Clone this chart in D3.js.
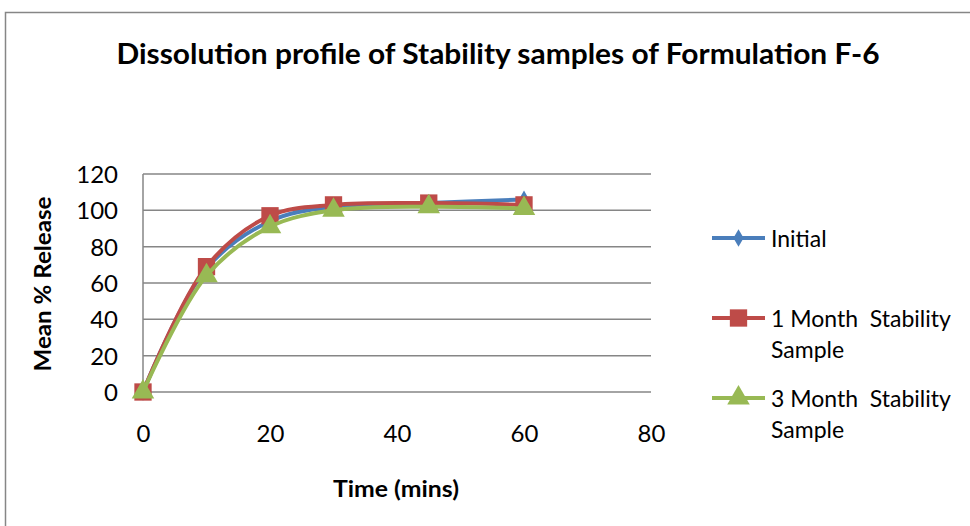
<!DOCTYPE html>
<html lang="en">
  <head>
    <meta charset="UTF-8" />
    <title>Dissolution profile</title>
    <script src="https://cdn.jsdelivr.net/npm/d3@7"></script>
    <style>
      body { margin: 0; background: #fff; }
      text { font-family: Lato, "Open Sans", sans-serif; fill: #000; }
    </style>
  </head>
  <body>
    <svg width="970" height="526"></svg>
  </body>
  <script>
    var times = [0, 10, 20, 30, 45, 60];
    var initial = [0, 68, 94, 102, 104, 106];
    var month1 = [0, 69, 97, 103, 104, 103];
    var month3 = [0, 64, 91, 100, 102, 101];
    var seriesNames = ["Initial", "1 Month  Stability Sample", "3 Month  Stability Sample"];
    var xTicks = [0, 20, 40, 60, 80];
    var yTicks = [0, 20, 40, 60, 80, 100, 120];

    var svg = d3.select("svg");

    // chart frame
    svg.append("rect")
      .attr("x", 5.5).attr("y", 12.5)
      .attr("width", 1000).attr("height", 600)
      .attr("fill", "white").attr("stroke", "#868686").attr("stroke-width", 1.5);

    var xScale = d3.scaleLinear().domain([0, 80]).range([143, 651]);
    var yScale = d3.scaleLinear().domain([0, 120]).range([392, 174]);

    // gridlines
    svg.append("g")
      .selectAll("line")
      .data(yTicks)
      .enter()
      .append("line")
      .attr("x1", xScale(0)).attr("x2", xScale(80))
      .attr("y1", (d) => yScale(d)).attr("y2", (d) => yScale(d))
      .attr("stroke", "#868686").attr("stroke-width", 1.5);

    svg.append("line")
      .attr("x1", xScale(0)).attr("x2", xScale(0))
      .attr("y1", yScale(0)).attr("y2", yScale(120))
      .attr("stroke", "#868686").attr("stroke-width", 1.5);

    var yAxis = d3.axisLeft(yScale).tickValues(yTicks).tickSize(0).tickPadding(25);
    var xAxis = d3.axisBottom(xScale).tickValues(xTicks).tickSize(0).tickPadding(33);

    var gy = svg.append("g").attr("transform", "translate(" + xScale(0) + ",0)").call(yAxis);
    var gx = svg.append("g").attr("transform", "translate(0," + yScale(0) + ")").call(xAxis);
    svg.selectAll(".domain").remove();
    svg.selectAll(".tick text")
      .style("font-family", "Lato, sans-serif")
      .style("font-size", "24px")
      .attr("fill", "#000");
    gy.selectAll(".tick text").attr("dy", "0.35em");

    var series = [
      { name: seriesNames[0], values: initial, color: "#4a7ebb", symbol: d3.symbolDiamond, size: 90 },
      { name: seriesNames[1], values: month1, color: "#be4b48", symbol: d3.symbolSquare, size: 300 },
      { name: seriesNames[2], values: month3, color: "#98b954", symbol: d3.symbolTriangle, size: 220 }
    ];

    var line = d3.line()
      .x((d, i) => xScale(times[i]))
      .y((d) => yScale(d))
      .curve(d3.curveCatmullRom.alpha(0.5));

    series.forEach(function (s) {
      svg.append("path")
        .attr("d", line(s.values))
        .attr("fill", "none")
        .attr("stroke", s.color)
        .attr("stroke-width", 4);
      svg.append("g")
        .selectAll("path")
        .data(s.values)
        .enter()
        .append("path")
        .attr("d", d3.symbol().type(s.symbol).size(s.size))
        .attr("transform", (d, i) => "translate(" + xScale(times[i]) + "," + yScale(d) + ")")
        .attr("fill", s.color);
    });

    // legend
    var legendY = [238, 318, 398];
    series.forEach(function (s, i) {
      var g = svg.append("g").attr("transform", "translate(712," + legendY[i] + ")");
      g.append("line").attr("x1", 0).attr("x2", 53).attr("y1", 0).attr("y2", 0)
        .attr("stroke", s.color).attr("stroke-width", 4);
      g.append("path")
        .attr("d", d3.symbol().type(s.symbol).size(s.size))
        .attr("transform", "translate(26.5,0)")
        .attr("fill", s.color);
      var words = s.name.split(" Sample");
      var t = g.append("text").attr("x", 59).attr("y", 9).style("font-size", "23px");
      t.append("tspan").attr("x", 59).text(words[0]).style("white-space", "pre");
      if (words.length > 1) {
        t.append("tspan").attr("x", 59).attr("dy", 31).text("Sample");
      }
    });

    svg.append("text")
      .attr("x", 498).attr("y", 64)
      .attr("text-anchor", "middle")
      .attr("textLength", 763).attr("lengthAdjust", "spacingAndGlyphs")
      .style("font-size", "28px").style("font-weight", "bold")
      .text("Dissolution profile of Stability samples of Formulation F-6");

    svg.append("text")
      .attr("x", 396).attr("y", 497)
      .attr("text-anchor", "middle")
      .attr("textLength", 126).attr("lengthAdjust", "spacingAndGlyphs")
      .style("font-size", "22px").style("font-weight", "bold")
      .text("Time (mins)");

    svg.append("text")
      .attr("transform", "translate(51,284) rotate(-90)")
      .attr("text-anchor", "middle")
      .attr("textLength", 175).attr("lengthAdjust", "spacingAndGlyphs")
      .style("font-size", "22px").style("font-weight", "bold")
      .text("Mean % Release");
  </script>
</html>
